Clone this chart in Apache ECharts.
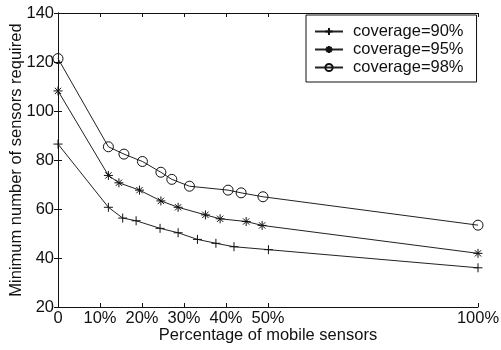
<!DOCTYPE html>
<html>
<head>
<meta charset="utf-8">
<script src="https://cdn.jsdelivr.net/npm/echarts@6/dist/echarts.min.js"></script>
<style>html,body{margin:0;padding:0;background:#fff}#c{width:501px;height:350px}</style>
</head>
<body>
<div id="c"></div>
<script>
const xTicks = [0, 10, 20, 30, 40, 50, 100];
const yTicks = [20, 40, 60, 80, 100, 120, 140];
const seriesNames = ['coverage=90%', 'coverage=95%', 'coverage=98%'];
const x90 = [0, 12, 15.4, 18.6, 24.3, 28.6, 33.2, 37.6, 41.9, 50.1, 100];
const y90 = [86.5, 60.7, 56.3, 55.2, 52.1, 50.3, 47.6, 46.0, 44.6, 43.4, 36.0];
const x95 = [0, 12, 14.5, 19.4, 24.5, 28.6, 35.1, 38.6, 44.8, 48.6, 100];
const y95 = [108.2, 73.7, 70.7, 67.7, 63.3, 60.7, 57.6, 56.0, 54.9, 53.3, 41.9];
const x98 = [0, 12, 15.7, 20.1, 24.5, 27.1, 31.3, 40.5, 43.6, 48.8, 100];
const y98 = [121.4, 85.4, 82.4, 79.4, 75.0, 72.1, 69.3, 67.7, 66.6, 65.0, 53.4];

const pair = (xs, ys) => xs.map((x, i) => [x, ys[i]]);
const FONT = 'Arial, "Liberation Sans", sans-serif';
const INK = '#111';
const symPlus = 'path://M0,5L10,5M5,0L5,10';
const symStar = 'path://M0,5L10,5M5,0L5,10M1.5,1.5L8.5,8.5M8.5,1.5L1.5,8.5';

const axisCommon = {
  axisLine: { show: true, lineStyle: { color: INK, width: 1 } },
  axisTick: { show: true, inside: true, length: 4, lineStyle: { color: INK } },
  splitLine: { show: false }
};

const chart = echarts.init(document.getElementById('c'), null, { renderer: 'canvas' });
const mk = (name, data, sym, size) => ({
  name, type: 'line', data, symbol: sym, symbolSize: size, clip: false,
  showAllSymbol: true,
  lineStyle: { color: '#222', width: 1 },
  itemStyle: { color: 'none', borderColor: '#111', borderWidth: 1 },
  emphasis: { disabled: true },
  animation: false
});

chart.setOption({
  animation: false,
  backgroundColor: '#fff',
  textStyle: { fontFamily: FONT },
  grid: { left: 58, right: 23, top: 13, bottom: 43, containLabel: false, outerBoundsMode: 'none' },
  legend: {
    orient: 'vertical', left: 306, top: 15,
    data: seriesNames,
    backgroundColor: '#fff',
    borderColor: INK, borderWidth: 1, borderRadius: 0,
    padding: [8, 13, 6, 8], itemGap: 1, itemWidth: 28, itemHeight: 9,
    textStyle: { fontSize: 16.5, color: INK, fontFamily: FONT, padding: [0, 0, 0, 5] },
    selectedMode: false
  },
  xAxis: [
    Object.assign({}, axisCommon, {
      type: 'value', min: 0, max: 100, interval: 10, position: 'bottom',
      name: 'Percentage of mobile sensors', nameLocation: 'middle', nameGap: 20, nameMoveOverlap: false,
      nameTextStyle: { fontSize: 16.5, color: INK, fontFamily: FONT },
      axisTick: { show: true, inside: true, length: 4, lineStyle: { color: INK }, customValues: xTicks },
      axisLabel: { fontSize: 16.5, color: INK, margin: 3, fontFamily: FONT, customValues: xTicks,
        formatter: v => v === 0 ? '0' : v + '%' }
    }),
    Object.assign({}, axisCommon, {
      type: 'value', min: 0, max: 100, interval: 10, position: 'top',
      axisTick: { show: true, inside: true, length: 4, lineStyle: { color: INK }, customValues: xTicks },
      axisLabel: { show: false }
    })
  ],
  yAxis: [
    Object.assign({}, axisCommon, {
      type: 'value', min: 20, max: 140, interval: 20, position: 'left',
      name: 'Minimum number of sensors required', nameLocation: 'middle', nameGap: 33, nameMoveOverlap: false,
      nameTextStyle: { fontSize: 16.5, color: INK, fontFamily: FONT },
      axisLabel: { fontSize: 16.5, color: INK, margin: 4, fontFamily: FONT }
    }),
    Object.assign({}, axisCommon, {
      type: 'value', min: 20, max: 140, interval: 20, position: 'right',
      axisLabel: { show: false }
    })
  ],
  series: [
    mk(seriesNames[0], pair(x90, y90), symPlus, 9),
    mk(seriesNames[1], pair(x95, y95), symStar, 9),
    mk(seriesNames[2], pair(x98, y98), 'circle', 10)
  ]
});
</script>
</body>
</html>
